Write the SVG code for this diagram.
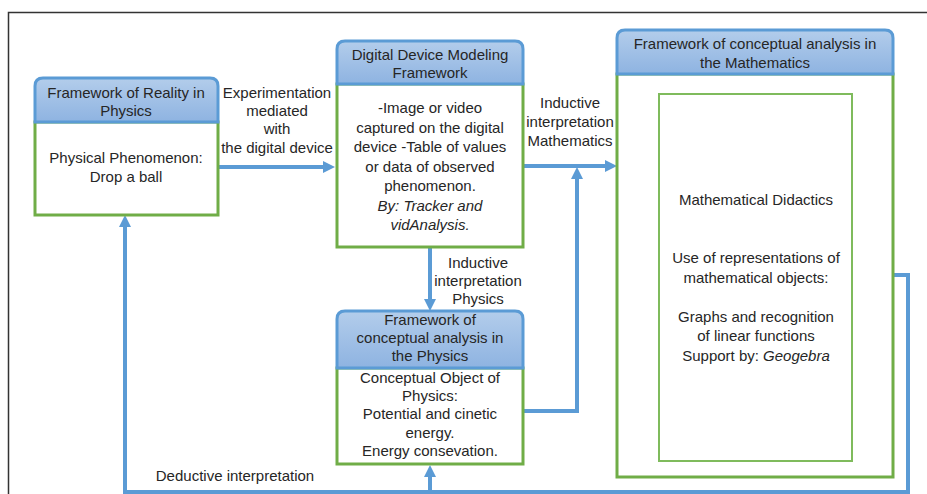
<svg xmlns="http://www.w3.org/2000/svg" width="927" height="494" viewBox="0 0 927 494">
<defs>
<linearGradient id="hg" x1="0" y1="0" x2="0" y2="1">
<stop offset="0" stop-color="#b3cdeb"/>
<stop offset="1" stop-color="#8eb3e1"/>
</linearGradient>
<marker id="ah" markerUnits="userSpaceOnUse" markerWidth="12" markerHeight="12" viewBox="0 0 12 12" refX="3" refY="6" orient="auto">
<path d="M0,0 L12,6 L0,12 z" fill="#5b9bd5"/>
</marker>
</defs>
<style>
text{font-family:"Liberation Sans",Arial,sans-serif;font-size:15px;fill:#262626;text-anchor:middle}
.it{font-style:italic}
.body{fill:#ffffff;stroke:#70ad47;stroke-width:3}
.inner{fill:#ffffff;stroke:#7fbb5c;stroke-width:2}
.head{fill:url(#hg);stroke:#5b9bd5;stroke-width:3}
.conn{fill:none;stroke:#5b9bd5;stroke-width:4}
.frame{fill:none;stroke:#333333;stroke-width:1.5}
</style>
<rect width="927" height="494" fill="#ffffff"/>
<path class="frame" d="M927,12.5 H8.5 V494"/>

<g id="connectors">
<path class="conn" d="M218,167 H326" marker-end="url(#ah)"/>
<path class="conn" d="M523,166 H608" marker-end="url(#ah)"/>
<path class="conn" d="M430,248 V302" marker-end="url(#ah)"/>
<path class="conn" d="M523,411 H577 V176" marker-end="url(#ah)"/>
<path class="conn" d="M893,275 H908 V492 H125 V224" marker-end="url(#ah)"/>
<path class="conn" d="M430,492 V474" marker-end="url(#ah)"/>
<text x="277" y="98">Experimentation</text>
<text x="277" y="116">mediated</text>
<text x="277" y="134">with</text>
<text x="277" y="153">the digital device</text>
<text x="570" y="108">Inductive</text>
<text x="570" y="127">interpretation</text>
<text x="570" y="146">Mathematics</text>
<text x="478" y="268">Inductive</text>
<text x="478" y="286">interpretation</text>
<text x="478" y="304">Physics</text>
<text x="235" y="481">Deductive interpretation</text>
</g>

<g id="reality">
<rect class="body" x="35" y="122" width="183" height="93"/>
<path class="head" d="M35,122 V86 Q35,78 43,78 H210 Q218,78 218,86 V122 Z"/>
<text x="126" y="98">Framework of Reality in</text>
<text x="126" y="116">Physics</text>
<text x="126" y="163">Physical Phenomenon:</text>
<text x="126" y="182">Drop a ball</text>
</g>

<g id="digital">
<rect class="body" x="337" y="84" width="186" height="163"/>
<path class="head" d="M337,84 V49 Q337,41 345,41 H515 Q523,41 523,49 V84 Z"/>
<text x="430" y="60">Digital Device Modeling</text>
<text x="430" y="78">Framework</text>
<text x="430" y="113">-Image or video</text>
<text x="430" y="133">captured on the digital</text>
<text x="430" y="152">device -Table of values</text>
<text x="430" y="172">or data of observed</text>
<text x="430" y="191">phenomenon.</text>
<text x="430" y="211" class="it">By: Tracker and</text>
<text x="430" y="230" class="it">vidAnalysis.</text>
</g>

<g id="physics">
<rect class="body" x="337" y="368" width="186" height="96"/>
<path class="head" d="M337,368 V319 Q337,311 345,311 H515 Q523,311 523,319 V368 Z"/>
<text x="430" y="325">Framework of</text>
<text x="430" y="343">conceptual analysis in</text>
<text x="430" y="361">the Physics</text>
<text x="430" y="383">Conceptual Object of</text>
<text x="430" y="401">Physics:</text>
<text x="430" y="419">Potential and cinetic</text>
<text x="430" y="438">energy.</text>
<text x="430" y="456">Energy consevation.</text>
</g>

<g id="mathematics">
<rect class="body" x="617" y="74" width="276" height="403"/>
<path class="head" d="M617,74 V38 Q617,30 625,30 H885 Q893,30 893,38 V74 Z"/>
<text x="755" y="49">Framework of conceptual analysis in</text>
<text x="755" y="68">the Mathematics</text>
</g>

<g id="didactics">
<rect class="inner" x="659" y="94" width="193" height="367"/>
<text x="756" y="205">Mathematical Didactics</text>
<text x="756" y="263">Use of representations of</text>
<text x="756" y="283">mathematical objects:</text>
<text x="756" y="322">Graphs and recognition</text>
<text x="756" y="341">of linear functions</text>
<text x="756" y="361">Support by: <tspan class="it">Geogebra</tspan></text>
</g>
</svg>
